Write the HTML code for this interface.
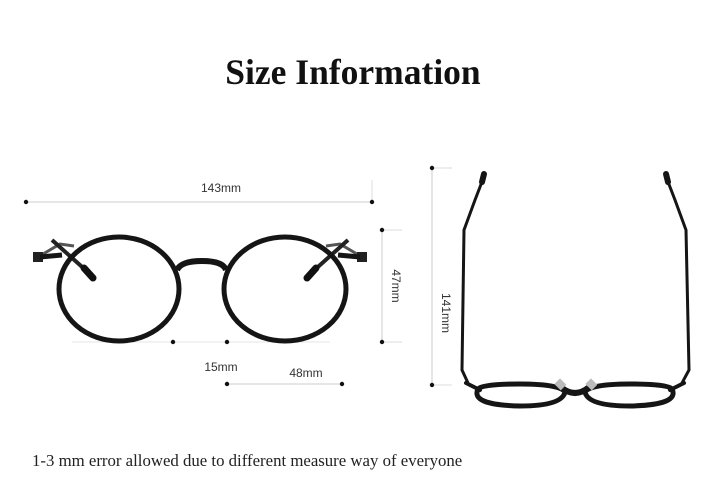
<!DOCTYPE html>
<html><head><meta charset="utf-8"><style>
html,body{margin:0;padding:0;background:#fff;width:720px;height:483px;overflow:hidden}
svg{display:block}
</style></head><body>
<svg width="720" height="483" viewBox="0 0 720 483" xmlns="http://www.w3.org/2000/svg">
<text x="353" y="84" text-anchor="middle" font-family="Liberation Serif, serif" font-weight="bold" font-size="35.5" fill="#111">Size Information</text>
<g font-family="Liberation Sans, sans-serif" font-size="12" fill="#333">
<line x1="26" y1="202" x2="372" y2="202" stroke="#ccc" stroke-width="1"/>
<line x1="372" y1="180" x2="372" y2="202" stroke="#ddd"/>
<circle cx="26" cy="202" r="2.2" fill="#111"/><circle cx="372" cy="202" r="2.2" fill="#111"/>
<text x="221" y="192" text-anchor="middle">143mm</text>
<line x1="382" y1="230" x2="382" y2="342" stroke="#ccc"/>
<line x1="382" y1="230" x2="402" y2="230" stroke="#ddd"/><line x1="382" y1="342" x2="402" y2="342" stroke="#ddd"/>
<circle cx="382" cy="230" r="2.2" fill="#111"/><circle cx="382" cy="342" r="2.2" fill="#111"/>
<text transform="translate(392,286) rotate(90)" text-anchor="middle">47mm</text>
<line x1="72" y1="342" x2="330" y2="342" stroke="#e4e4e4"/>
<circle cx="173" cy="342" r="2.2" fill="#111"/><circle cx="227" cy="342" r="2.2" fill="#111"/>
<text x="221" y="371" text-anchor="middle">15mm</text>
<line x1="227" y1="384" x2="342" y2="384" stroke="#ccc"/>
<circle cx="227" cy="384" r="2.2" fill="#111"/><circle cx="342" cy="384" r="2.2" fill="#111"/>
<text x="306" y="377" text-anchor="middle">48mm</text>
<line x1="432" y1="168" x2="432" y2="385" stroke="#ccc"/>
<line x1="432" y1="168" x2="452" y2="168" stroke="#ddd"/><line x1="432" y1="385" x2="452" y2="385" stroke="#ddd"/>
<circle cx="432" cy="168" r="2.2" fill="#111"/><circle cx="432" cy="385" r="2.2" fill="#111"/>
<text transform="translate(442,313) rotate(90)" text-anchor="middle">141mm</text>
</g>
<g fill="none" stroke="#151515">
<path d="M38 257 L60 244 L74 246" stroke="#555" stroke-width="3"/>
<path d="M52 240 L90 274" stroke="#222" stroke-width="4"/>
<path d="M84 268 L93 278" stroke="#111" stroke-width="7" stroke-linecap="round"/>
<path d="M362 257 L340 244 L326 246" stroke="#555" stroke-width="3"/>
<path d="M348 240 L310 274" stroke="#222" stroke-width="4"/>
<path d="M316 268 L307 278" stroke="#111" stroke-width="7" stroke-linecap="round"/>
<rect x="33" y="252" width="10" height="10" fill="#222" stroke="none"/>
<rect x="357" y="252" width="10" height="10" fill="#222" stroke="none"/>
<path d="M40 257 L62 255" stroke-width="5"/><path d="M360 257 L338 255" stroke-width="5"/>
<ellipse cx="119" cy="289" rx="60" ry="52" stroke-width="5"/>
<ellipse cx="285" cy="289" rx="61" ry="52" stroke-width="5"/>
<path d="M177 270 Q181 261 202 261 Q223 261 226 270" stroke-width="6"/>
</g>
<g fill="none" stroke="#151515" stroke-linecap="round">
<path d="M485 174 L475 200 L464 230 L462 370 L468 383" stroke-width="3"/>
<path d="M665 174 L675 200 L686 230 L689 370 L682 383" stroke-width="3"/>
<path d="M484 174 L482 182" stroke-width="6"/><path d="M666 174 L668 182" stroke-width="6"/>
<path d="M478 389 Q470 405 520 406 Q562 406 565 392 Q560 384 520 384 Q482 384 478 389 Z" stroke-width="5"/>
<path d="M672 389 Q680 405 630 406 Q588 406 585 392 Q590 384 630 384 Q668 384 672 389 Z" stroke-width="5"/>
<path d="M562 388 Q575 398 588 388" stroke-width="6"/>
<path d="M466 383 L480 390" stroke-width="4"/><path d="M684 383 L670 390" stroke-width="4"/>
</g>
<rect x="556" y="380" width="9" height="8" fill="#bbb" transform="rotate(45 560 384)"/>
<rect x="587" y="380" width="9" height="8" fill="#bbb" transform="rotate(45 591 384)"/>
<text x="32" y="466" font-family="Liberation Serif, serif" font-size="16.8" fill="#222">1-3 mm error allowed due to different measure way of everyone</text>
</svg>
</body></html>
